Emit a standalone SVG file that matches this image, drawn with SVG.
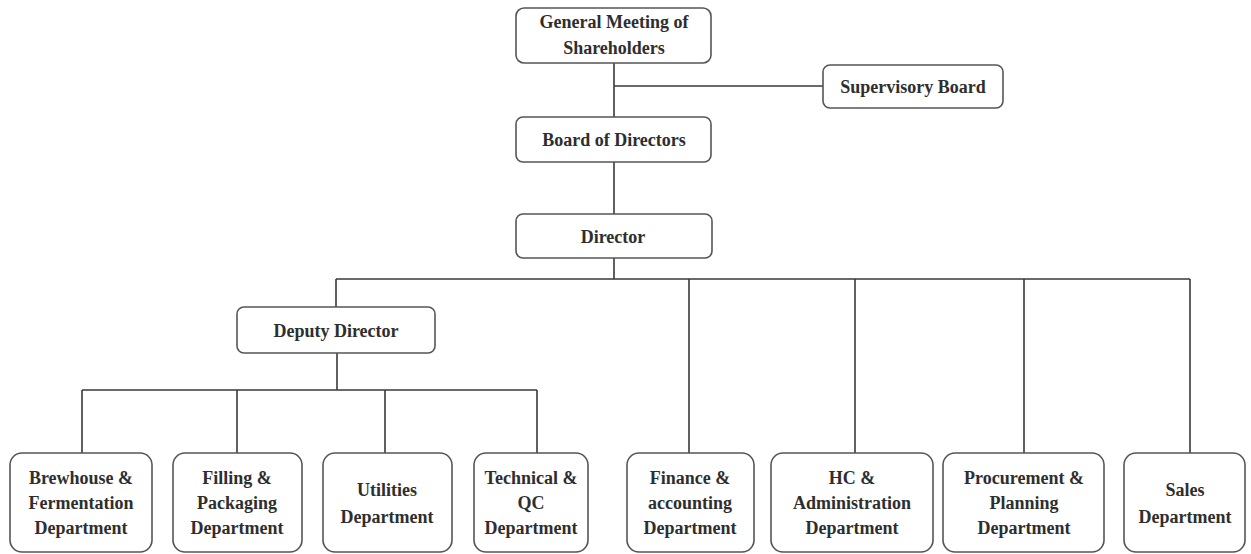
<svg xmlns="http://www.w3.org/2000/svg" width="1251" height="554" viewBox="0 0 1251 554">
<style>
.box{fill:#fff;stroke:#555;stroke-width:1.6}
.t{font-family:"Liberation Serif","Times New Roman",serif;font-weight:bold;font-size:18px;fill:#2e2e2e;text-anchor:middle}
.c{fill:none;stroke:#3a3a3a;stroke-width:1.6}
</style>
<rect width="1251" height="554" fill="#fff"/>
<g id="connectors">
<path class="c" d="M614 63V117M614 86H823M614 162V214M614 258V279M336 279H1190M336 279V307M689 279V453M855 279V453M1024 279V453M1190 279V453"/>
<path class="c" d="M337 353V390M82 390H537M82 390V453M237 390V453M385 390V453M537 390V453"/>
</g>
<g id="general-meeting"><rect class="box" x="516" y="8" width="195" height="55" rx="8"/><text class="t" x="614" y="28">General Meeting of</text><text class="t" x="614" y="54">Shareholders</text></g>
<g id="supervisory-board"><rect class="box" x="823" y="65" width="180" height="43" rx="7"/><text class="t" x="913" y="93">Supervisory Board</text></g>
<g id="board-of-directors"><rect class="box" x="516" y="117" width="195" height="45" rx="7"/><text class="t" x="614" y="146">Board of Directors</text></g>
<g id="director"><rect class="box" x="516" y="214" width="196" height="44" rx="7"/><text class="t" x="613" y="243">Director</text></g>
<g id="deputy-director"><rect class="box" x="237" y="307" width="198" height="46" rx="7"/><text class="t" x="336" y="337">Deputy Director</text></g>
<g id="brewhouse"><rect class="box" x="10" y="453" width="142" height="99" rx="12"/><text class="t" x="81" y="484">Brewhouse &amp;</text><text class="t" x="81" y="509">Fermentation</text><text class="t" x="81" y="534">Department</text></g>
<g id="filling"><rect class="box" x="173" y="453" width="129" height="99" rx="12"/><text class="t" x="237" y="484">Filling &amp;</text><text class="t" x="237" y="509">Packaging</text><text class="t" x="237" y="534">Department</text></g>
<g id="utilities"><rect class="box" x="323" y="453" width="129" height="99" rx="12"/><text class="t" x="387" y="496">Utilities</text><text class="t" x="387" y="523">Department</text></g>
<g id="technical"><rect class="box" x="474" y="453" width="114" height="99" rx="12"/><text class="t" x="531" y="484">Technical &amp;</text><text class="t" x="531" y="509">QC</text><text class="t" x="531" y="534">Department</text></g>
<g id="finance"><rect class="box" x="627" y="453" width="127" height="99" rx="12"/><text class="t" x="690" y="484">Finance &amp;</text><text class="t" x="690" y="509">accounting</text><text class="t" x="690" y="534">Department</text></g>
<g id="hc"><rect class="box" x="771" y="453" width="162" height="99" rx="12"/><text class="t" x="852" y="484">HC &amp;</text><text class="t" x="852" y="509">Administration</text><text class="t" x="852" y="534">Department</text></g>
<g id="procurement"><rect class="box" x="943" y="453" width="161" height="99" rx="12"/><text class="t" x="1024" y="484">Procurement &amp;</text><text class="t" x="1024" y="509">Planning</text><text class="t" x="1024" y="534">Department</text></g>
<g id="sales"><rect class="box" x="1124" y="453" width="121" height="99" rx="12"/><text class="t" x="1185" y="496">Sales</text><text class="t" x="1185" y="523">Department</text></g>
</svg>
